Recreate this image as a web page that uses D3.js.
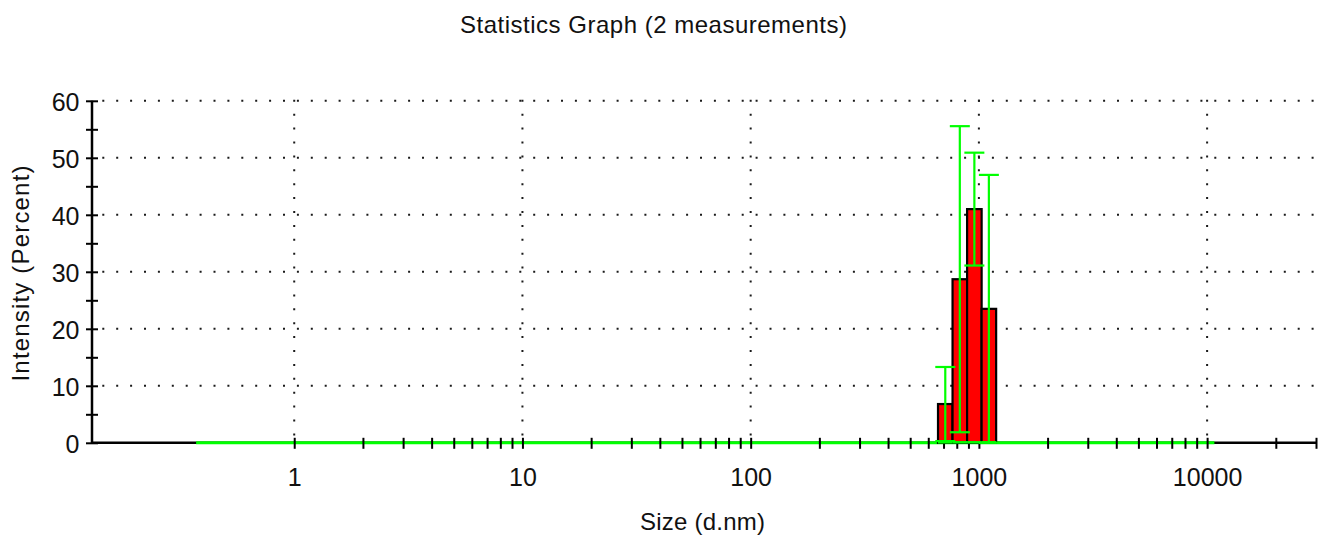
<!DOCTYPE html>
<html>
<head>
<meta charset="utf-8">
<script src="https://cdn.jsdelivr.net/npm/d3@7"></script>
<style>
  html, body { margin: 0; padding: 0; background: #fff; }
  svg { display: block; font-family: "Liberation Sans", Arial, sans-serif; }
</style>
</head>
<body>
<svg id="chart" width="1330" height="538"></svg>
<script>
// Size classes (d.nm) with non-zero intensity, averaged over the measurements
const sizeClasses   = [712.4, 825.0, 955.4, 1106];
const intensityMean = [6.8, 28.7, 41.0, 23.5];
const intensitySD   = [6.5, 26.85, 9.9, 23.5];

// First and last size class of the distribution (all other classes are 0 %)
const classRange = [0.4, 10000];

// Axis settings
const xDomain = [0.13, 30000];
const yDomain = [0, 60];
const xLabelTicks = [1, 10, 100, 1000, 10000];
const yLabelTicks = [0, 10, 20, 30, 40, 50, 60];
const yMinorStep = 5;

const title  = "Statistics Graph (2 measurements)";
const xTitle = "Size (d.nm)";
const yTitle = "Intensity (Percent)";

const svg = d3.select("#chart");

const x = d3.scaleLog().domain(xDomain).range([92, 1316]);
const y = d3.scaleLinear().domain(yDomain).range([442.8, 100.8]);
const y0 = y(0);

// half a class width on the log axis, from the spacing of neighbouring classes
const halfClass = Math.sqrt(sizeClasses[1] / sizeClasses[0]);

// ---- dotted grid ----
const grid = svg.append("g")
  .attr("stroke", "#1a1a1a")
  .attr("stroke-width", 2)
  .attr("stroke-dasharray", "2 11.9");

grid.selectAll("line.h")
  .data(yLabelTicks.filter(d => d > 0))
  .join("line")
  .attr("class", "h")
  .attr("x1", 102.3).attr("x2", 1320)
  .attr("y1", d => y(d)).attr("y2", d => y(d));

grid.selectAll("line.v")
  .data(xLabelTicks)
  .join("line")
  .attr("class", "v")
  .attr("x1", d => x(d)).attr("x2", d => x(d))
  .attr("y1", y(yDomain[1]) - 1).attr("y2", y0 - 3);

// ---- axis lines ----
svg.append("line")
  .attr("x1", x(xDomain[0])).attr("x2", x(xDomain[1]))
  .attr("y1", y0).attr("y2", y0)
  .attr("stroke", "#000").attr("stroke-width", 2.5);

svg.append("line")
  .attr("x1", x(xDomain[0])).attr("x2", x(xDomain[0]))
  .attr("y1", y(yDomain[1])).attr("y2", y0 + 1)
  .attr("stroke", "#000").attr("stroke-width", 2.5);

// zero line of the distribution across the measured size range
svg.append("line")
  .attr("x1", x(classRange[0] / halfClass)).attr("x2", x(classRange[1] * halfClass))
  .attr("y1", y0).attr("y2", y0)
  .attr("stroke", "#00ff00").attr("stroke-width", 3);

// ---- x axis ticks and labels ----
const xTickValues = x.ticks().filter(d => d >= 1);
const xAxis = d3.axisBottom(x)
  .tickValues(xTickValues)
  .tickSizeInner(5)
  .tickSizeOuter(0)
  .tickFormat(d => xLabelTicks.includes(d) ? String(d) : "");

const gx = svg.append("g")
  .attr("transform", `translate(0,${y0})`)
  .call(xAxis);
gx.select(".domain").remove();
gx.selectAll(".tick line")
  .attr("y1", -5).attr("y2", 6)
  .attr("stroke", "#000").attr("stroke-width", 2);
gx.selectAll(".tick text")
  .attr("y", 43).attr("dy", null)
  .attr("fill", "#111")
  .style("font-size", "25px")
  .style("font-family", "'Liberation Sans', Arial, sans-serif");

// ---- y axis ticks and labels ----
const yTickValues = d3.range(yDomain[0], yDomain[1] + yMinorStep, yMinorStep);
const yAxis = d3.axisLeft(y)
  .tickValues(yTickValues)
  .tickSizeInner(6)
  .tickSizeOuter(0)
  .tickFormat(d => yLabelTicks.includes(d) ? String(d) : "");

const gy = svg.append("g")
  .attr("transform", `translate(${x(xDomain[0])},0)`)
  .call(yAxis);
gy.select(".domain").remove();
gy.selectAll(".tick line")
  .attr("x1", 6).attr("x2", -6)
  .attr("stroke", "#000").attr("stroke-width", 2);
gy.selectAll(".tick text")
  .attr("x", -12.5).attr("dy", null).attr("y", 9.5)
  .attr("fill", "#111")
  .style("font-size", "25px")
  .style("font-family", "'Liberation Sans', Arial, sans-serif");

// ---- bars ----
const bins = sizeClasses.map((c, i) => ({
  c, m: intensityMean[i], s: intensitySD[i],
  lo: c / halfClass, hi: c * halfClass
}));

svg.append("g").selectAll("rect")
  .data(bins)
  .join("rect")
  .attr("x", d => x(d.lo))
  .attr("width", d => x(d.hi) - x(d.lo))
  .attr("y", d => y(d.m))
  .attr("height", d => y0 - y(d.m))
  .attr("fill", "#ff0000")
  .attr("stroke", "#000")
  .attr("stroke-width", 2.2);

// green zero segment running along the bar bases
svg.append("g").selectAll("line")
  .data(bins)
  .join("line")
  .attr("x1", d => x(d.lo)).attr("x2", d => x(d.hi))
  .attr("y1", y0 - 0.5).attr("y2", y0 - 0.5)
  .attr("stroke", "#00ff00").attr("stroke-width", 2.5);

// ---- error bars (mean ± standard deviation) ----
const capHalf = 10;
const eb = svg.append("g")
  .attr("stroke", "#00ff00")
  .attr("stroke-width", 2.2)
  .selectAll("g")
  .data(bins)
  .join("g");

eb.append("line")
  .attr("x1", d => x(d.c)).attr("x2", d => x(d.c))
  .attr("y1", d => y(d.m + d.s))
  .attr("y2", d => y(Math.max(0, d.m - d.s)));
eb.append("line")
  .attr("x1", d => x(d.c) - capHalf).attr("x2", d => x(d.c) + capHalf)
  .attr("y1", d => y(d.m + d.s)).attr("y2", d => y(d.m + d.s));
eb.append("line")
  .attr("x1", d => x(d.c) - capHalf).attr("x2", d => x(d.c) + capHalf)
  .attr("y1", d => y(Math.max(0, d.m - d.s)))
  .attr("y2", d => y(Math.max(0, d.m - d.s)));

// ---- titles ----
svg.append("text")
  .attr("x", 653.5).attr("y", 33)
  .attr("text-anchor", "middle")
  .style("font-size", "24px")
  .attr("textLength", 387)
  .attr("lengthAdjust", "spacing")
  .attr("fill", "#111")
  .text(title);

svg.append("text")
  .attr("x", 702.5).attr("y", 530)
  .attr("text-anchor", "middle")
  .style("font-size", "24px")
  .attr("textLength", 125)
  .attr("lengthAdjust", "spacing")
  .attr("fill", "#111")
  .text(xTitle);

svg.append("text")
  .attr("transform", "translate(29,273.5) rotate(-90)")
  .attr("text-anchor", "middle")
  .style("font-size", "24px")
  .attr("textLength", 216)
  .attr("lengthAdjust", "spacing")
  .attr("fill", "#111")
  .text(yTitle);
</script>
</body>
</html>
